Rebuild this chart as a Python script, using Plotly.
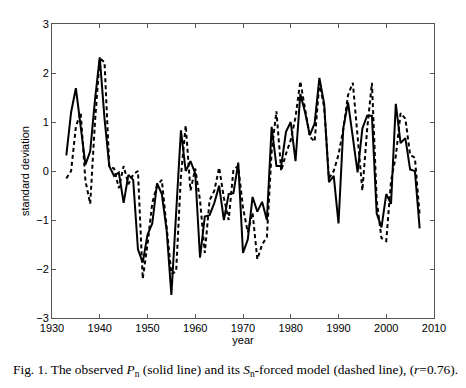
import plotly.graph_objects as go

years = list(range(1933, 2008))

observed_pn = [
    0.32, 1.2, 1.69, 0.85, 0.13, 0.4, 1.45, 2.32, 1.07, 0.1,
    -0.1, -0.03, -0.65, -0.08, -0.18, -1.6, -1.87, -1.3, -1.07, -0.25,
    -0.47, -1.2, -2.53, -0.85, 0.83, 0.0, 0.2, -0.05, -1.77, -0.93,
    -0.9, -0.65, -0.3, -1.0, -0.47, -0.45, 0.17, -1.67, -1.4, -0.53,
    -0.83, -0.63, -1.0, 0.9, 0.1, 0.1, 0.8, 1.0, 0.2, 1.57,
    1.2, 0.73, 0.97, 1.9, 1.37, -0.23, -0.1, -1.07, 0.87, 1.4,
    0.7, -0.03, 0.87, 1.13, 1.13, -0.87, -1.15, -0.47, -0.67, 1.37,
    0.57, 0.67, 0.03, 0.0, -1.17,
]

sn_model = [
    -0.15, 0.0, 0.9, 1.2, -0.2, -0.67, 1.0, 2.3, 2.22, 0.1,
    0.05, -0.35, 0.1, -0.27, -0.07, 0.0, -2.2, -1.5, -0.65, -0.3,
    -0.18, -1.1, -2.1, -2.05, -0.1, 0.93, -0.4, 0.05, -0.6, -1.67,
    -0.6, -0.4, 0.07, -0.55, -1.0, 0.03, 0.1, -0.75, -1.25, -0.85,
    -1.8, -1.5, -1.35, 0.4, 1.22, 0.0, 0.35, 0.63, 1.1, 1.83,
    1.3, 0.7, 0.6, 1.8, 1.3, -0.15, 0.0, 0.33, 0.85, 1.55,
    1.8, 0.7, -0.4, 0.85, 1.8, -0.6, -1.37, -1.43, -0.2, 0.3,
    1.18, 1.07, 0.33, 0.27, -0.9,
]

x_ticks = [1930, 1940, 1950, 1960, 1970, 1980, 1990, 2000, 2010]
y_ticks = [-3, -2, -1, 0, 1, 2, 3]

fig = go.Figure()
fig.add_trace(go.Scatter(
    x=years, y=sn_model, mode="lines",
    line=dict(color="black", width=2, dash="4px,3px"),
    name="model", showlegend=False,
))
fig.add_trace(go.Scatter(
    x=years, y=observed_pn, mode="lines",
    line=dict(color="black", width=2),
    name="observed", showlegend=False,
))

axis_common = dict(
    showgrid=False, zeroline=False, showline=True, linecolor="#555555",
    linewidth=1, mirror="ticks", ticks="inside", ticklen=4,
    tickcolor="#555555",
    tickfont=dict(family="Liberation Sans, Arial", size=11, color="black"),
)

fig.update_xaxes(range=[1930, 2010], tickvals=x_ticks,
                 title=dict(text="year", standoff=0,
                            font=dict(family="Liberation Sans, Arial", size=11, color="black")),
                 **axis_common)
fig.update_yaxes(range=[-3, 3], tickvals=y_ticks,
                 title=dict(text="standard deviation", standoff=4,
                            font=dict(family="Liberation Sans, Arial", size=11, color="black")),
                 **axis_common)

fig.add_annotation(
    text="Fig. 1. The observed <i>P</i><sub>n</sub> (solid line) and its <i>S</i><sub>n</sub>-forced model (dashed line), (<i>r</i>=0.76).",
    xref="paper", yref="paper", x=-0.107, y=-0.178, xanchor="left", yanchor="middle",
    showarrow=False,
    font=dict(family="Liberation Serif, Times New Roman", size=13.4, color="black"),
)

fig.update_layout(
    width=466, height=388,
    margin=dict(l=44, r=40, t=10, b=78),
    paper_bgcolor="white", plot_bgcolor="white",
)

fig.write_html("out.html")
